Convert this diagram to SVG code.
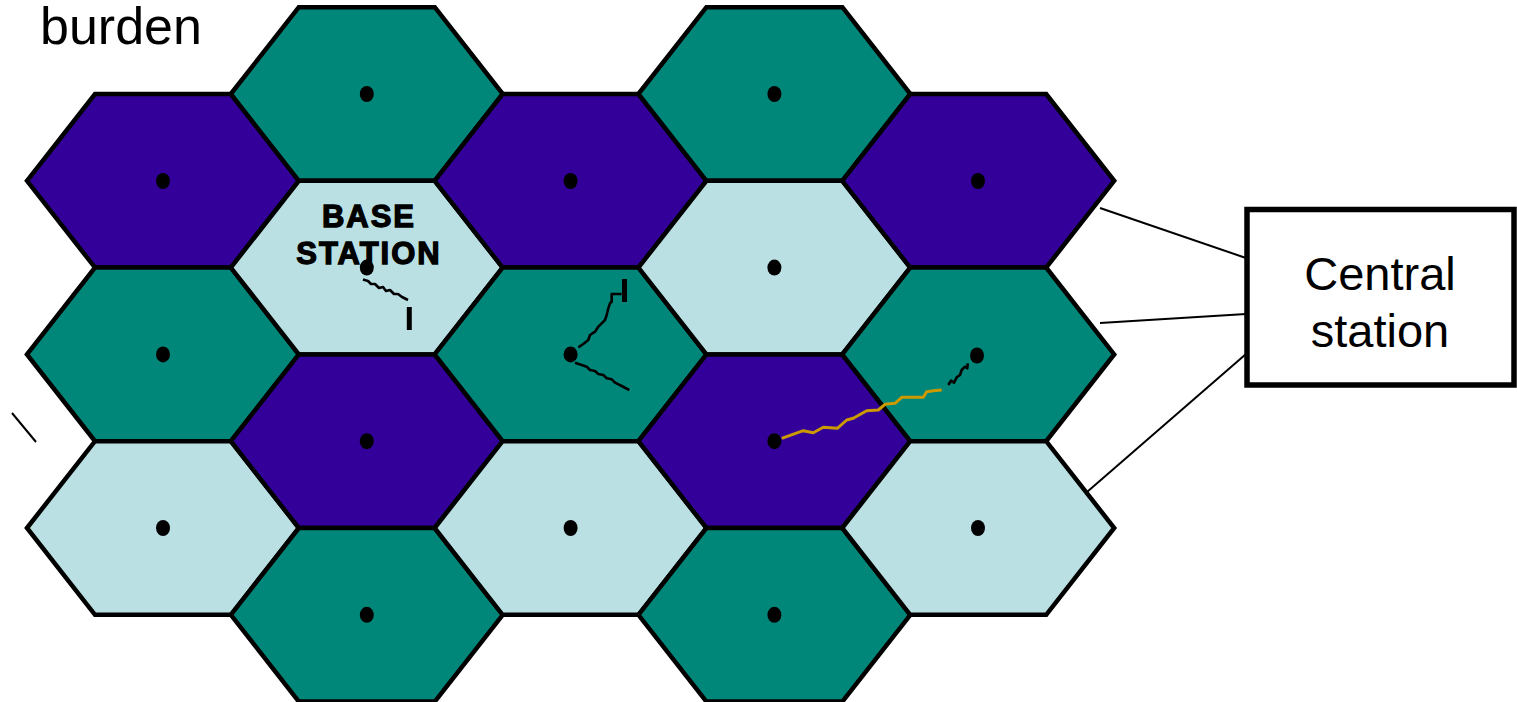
<svg xmlns="http://www.w3.org/2000/svg" width="1517" height="702" viewBox="0 0 1517 702">
<defs>
<polygon id="hex" points="-136,0 -68,-86.8 68,-86.8 136,0 68,86.8 -68,86.8"/>
</defs>
<style>
.teal{fill:#00877A}
.purple{fill:#330099}
.light{fill:#BAE0E4}
.cell{stroke:#000;stroke-width:4.5;stroke-linejoin:miter}
.dot{fill:#000}
.conn{stroke:#000;stroke-width:2;fill:none}
.wig{stroke:#000;stroke-width:2.6;fill:none;stroke-linejoin:round}
.bar{stroke:#000;stroke-width:5;fill:none}
.gold{stroke:#CC9900;stroke-width:3;fill:none;stroke-linejoin:round}
.big{font-family:"Liberation Sans",Arial,sans-serif;font-size:52px;fill:#000}
.cen{font-family:"Liberation Sans",Arial,sans-serif;font-size:47px;fill:#000;text-anchor:middle}
.bs{font-family:"Liberation Sans",Arial,sans-serif;font-size:31px;font-weight:bold;fill:#000;stroke:#000;stroke-width:1.3;letter-spacing:2px;text-anchor:middle}
</style>
<rect width="1517" height="702" fill="#fff"/>
<text class="big" x="40" y="44">burden</text>

<g id="c0r0"><use href="#hex" x="163" y="180.8" class="cell purple"/><ellipse class="dot" cx="163" cy="181" rx="7" ry="8"/></g>
<g id="c0r1"><use href="#hex" x="163" y="354.4" class="cell teal"/><ellipse class="dot" cx="163" cy="354.4" rx="7" ry="8"/></g>
<g id="c0r2"><use href="#hex" x="163" y="528" class="cell light"/><ellipse class="dot" cx="163" cy="528" rx="7" ry="8"/></g>

<g id="c1r0"><use href="#hex" x="366.8" y="94" class="cell teal"/><ellipse class="dot" cx="366.8" cy="94" rx="7" ry="8"/></g>
<g id="c1r1"><use href="#hex" x="366.8" y="267.6" class="cell light"/><ellipse class="dot" cx="366.8" cy="267.6" rx="7" ry="8"/>
<text class="bs" x="369" y="227">BASE</text><text class="bs" x="369" y="264">STATION</text></g>
<g id="c1r2"><use href="#hex" x="366.8" y="441.2" class="cell purple"/><ellipse class="dot" cx="366.8" cy="441.2" rx="7" ry="8"/></g>
<g id="c1r3"><use href="#hex" x="366.8" y="614.8" class="cell teal"/><ellipse class="dot" cx="366.8" cy="614.8" rx="7" ry="8"/></g>

<g id="c2r0"><use href="#hex" x="570.6" y="180.8" class="cell purple"/><ellipse class="dot" cx="570.6" cy="181" rx="7" ry="8"/></g>
<g id="c2r1"><use href="#hex" x="570.6" y="354.4" class="cell teal"/><ellipse class="dot" cx="570.6" cy="354.4" rx="7" ry="8"/></g>
<g id="c2r2"><use href="#hex" x="570.6" y="528" class="cell light"/><ellipse class="dot" cx="570.6" cy="528" rx="7" ry="8"/></g>

<g id="c3r0"><use href="#hex" x="774.4" y="94" class="cell teal"/><ellipse class="dot" cx="774.4" cy="94" rx="7" ry="8"/></g>
<g id="c3r1"><use href="#hex" x="774.4" y="267.6" class="cell light"/><ellipse class="dot" cx="774.4" cy="267.6" rx="7" ry="8"/></g>
<g id="c3r2"><use href="#hex" x="774.4" y="441.2" class="cell purple"/><ellipse class="dot" cx="774.4" cy="441.2" rx="7" ry="8"/></g>
<g id="c3r3"><use href="#hex" x="774.4" y="614.8" class="cell teal"/><ellipse class="dot" cx="774.4" cy="614.8" rx="7" ry="8"/></g>

<g id="c4r0"><use href="#hex" x="978.2" y="180.8" class="cell purple"/><ellipse class="dot" cx="978" cy="181" rx="7" ry="8"/></g>
<g id="c4r1"><use href="#hex" x="978.2" y="354.4" class="cell teal"/><ellipse class="dot" cx="977" cy="355.5" rx="7" ry="8"/></g>
<g id="c4r2"><use href="#hex" x="978.2" y="528" class="cell light"/><ellipse class="dot" cx="978" cy="528" rx="7" ry="8"/></g>

<g id="signals">
<polyline class="wig" points="363,279.5 368,281 371,284 375,284 379,288 383,287 386,291 390,290 394,294 398,294 402,297 408,300"/>
<line class="bar" x1="409.3" y1="307" x2="409.3" y2="330"/>
<polyline class="wig" points="578.3,347.3 583.3,344 588.3,340 590,335 595,331.7 598.3,326.7 601.7,323.3 605,320 606.7,315 608.3,308.3 610,303.3 611.7,301.7 611.7,294 621.7,294"/>
<line class="bar" x1="624.5" y1="279" x2="624.5" y2="302"/>
<polyline class="wig" points="575,362.7 581.7,365 586.7,366.7 590,370 595,371 598.3,374 603.3,375 606.7,378.3 611.7,379.3 615,382.7 621.7,386 629.3,390"/>
<polyline class="gold" points="781.7,438.3 803.3,430.7 813.3,432.7 823.3,427.3 837.3,428.3 846.7,420 853.3,418.3 866.7,410.7 878.3,410 885,404.3 895,403.3 901.7,397.3 923.3,397.3 926.7,391.7 933.3,390.7 941.7,390"/>
<polyline class="wig" points="948.3,385 951,380.7 954,382.7 956.7,377.3 960,375 961.7,370 965,366.7 967.3,368.3 967.7,363.3"/>
</g>

<g id="connectors">
<line class="conn" x1="1100" y1="208" x2="1246" y2="258"/>
<line class="conn" x1="1100" y1="323" x2="1246" y2="314"/>
<line class="conn" x1="1087" y1="492" x2="1246" y2="354"/>
<line class="conn" x1="12" y1="413" x2="36" y2="442"/>
</g>

<g id="central">
<rect x="1247" y="209.5" width="267" height="175.5" fill="#fff" stroke="#000" stroke-width="5.5"/>
<text class="cen" x="1380" y="290">Central</text>
<text class="cen" x="1380" y="347">station</text>
</g>
</svg>
